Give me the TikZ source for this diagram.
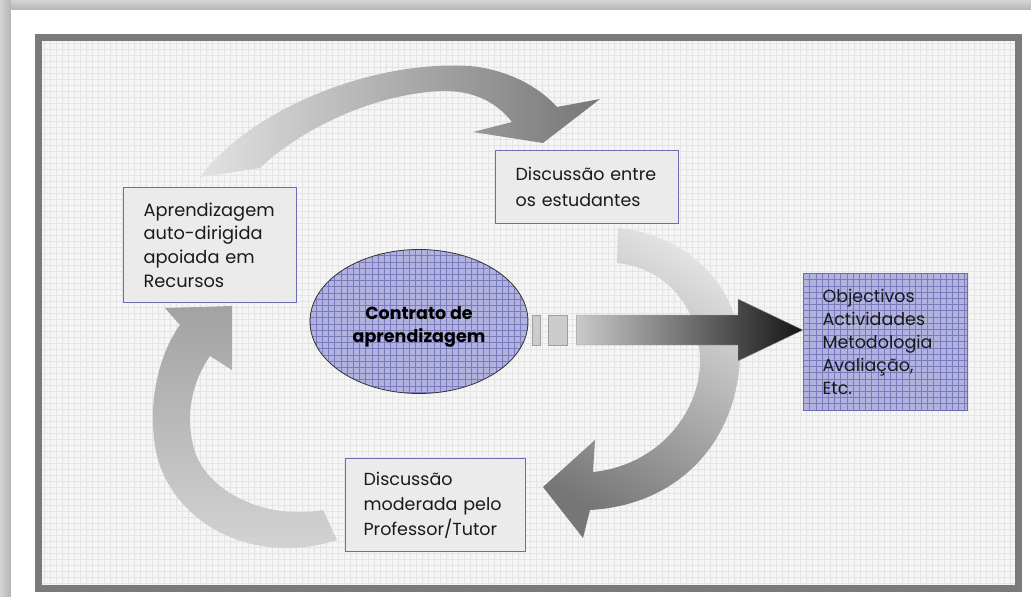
\documentclass[tikz,border=0pt]{standalone}
\usepackage{fontspec}
\setmainfont{Poppins}
\usetikzlibrary{shapes.geometric,calc}

\definecolor{framegray}{HTML}{7A7A7A}
\definecolor{patbase}{HTML}{F5F5F5}
\definecolor{patline}{HTML}{E4E4E4}
\definecolor{boxline}{HTML}{6C6CB0}
\definecolor{boxfill}{HTML}{EBEBEB}
\definecolor{lav}{HTML}{B2B2DE}
\definecolor{lavline}{HTML}{7A7ABE}
\definecolor{inktext}{HTML}{1A1A1A}
\definecolor{arlight}{HTML}{E2E2E2}
\definecolor{armid}{HTML}{D0D0D0}
\definecolor{ardark}{HTML}{767676}
\definecolor{headgray}{HTML}{A2A2A2}
\definecolor{tailgray}{HTML}{D6D6D6}
\definecolor{shadowin}{HTML}{B4B4B4}
\definecolor{shadowout}{HTML}{D4D4D4}

\tikzset{
  gridfill/.style={fill=lav, path picture={
    \foreach \k in {0,...,40}{
      \draw[lavline, line width=0.7pt]
        ([xshift=\k*6.2pt]path picture bounding box.north west) --
        ([xshift=\k*6.2pt]path picture bounding box.south west);
      \draw[lavline, line width=0.7pt]
        ([yshift=-\k*6.2pt]path picture bounding box.north west) --
        ([yshift=-\k*6.2pt]path picture bounding box.north east);
    }}},
  textbox/.style={draw=boxline, line width=1.2pt, fill=boxfill,
    anchor=north west, align=left, text=inktext, inner ysep=0pt},
  cyclearrow/.style={draw=none},
  dashsq/.style={fill=gray!40, draw=gray!75, line width=0.6pt},
}

\begin{document}
\begin{tikzpicture}[x=1pt,y=-1pt]
\useasboundingbox (0,0) rectangle (1031,597);

% page card with its soft shadow
\fill[white] (0,0) rectangle (1031,597);
\shade[top color=shadowout, bottom color=shadowin] (0,0) rectangle (1031,10);
\shade[left color=shadowout, right color=shadowin] (0,0) rectangle (11,597);
\fill[white] (11,10) rectangle (1031,597);

% patterned panel
\fill[patbase] (42,41) rectangle (1015,585);
\foreach \x in {44,50,...,1014}
  \draw[patline, line width=1pt] (\x,41) -- (\x,585);
\foreach \y in {43,49,...,584}
  \draw[patline, line width=1pt] (42,\y) -- (1015,\y);
\draw[framegray, line width=7pt] (38.5,37.5) rectangle (1018.5,588.5);

% cycle of curved block arrows
\shade[cyclearrow, left color=arlight, right color=ardark]
  (200,177) .. controls (250,110) and (370,60) .. (470,66)
  .. controls (510,70) and (540,88) .. (557,107)
  -- (600,99) -- (543,143) -- (473,132) -- (512,122)
  .. controls (495,100) and (470,90) .. (440,91)
  .. controls (370,95) and (300,130) .. (260,168) -- cycle;

\shade[cyclearrow, top color=arlight, middle color=armid, bottom color=ardark, shading angle=-30]
  (618,228) .. controls (690,235) and (742,290) .. (740,355)
  .. controls (738,440) and (680,505) .. (590,510)
  -- (583,538) -- (543,487) -- (595,440) -- (593,472)
  .. controls (660,465) and (702,410) .. (700,357)
  .. controls (698,305) and (665,268) .. (617,263) -- cycle;

\shade[cyclearrow, top color=headgray, middle color=tailgray, bottom color=tailgray]
  (337,540) .. controls (260,565) and (180,530) .. (158,460)
  .. controls (145,410) and (158,355) .. (180,325)
  -- (165,308) -- (232,306) -- (232,370) -- (210,356)
  .. controls (190,385) and (185,420) .. (195,452)
  .. controls (210,495) and (270,520) .. (323,510) -- cycle;

% the three stages
\node[textbox, inner xsep=20pt, text width=133pt, minimum height=115pt,
      font=\fontsize{17.8}{23.7}\selectfont] (auto) at (123,187)
  {Aprendizagem\\auto-dirigida\\apoiada em\\Recursos};
\node[textbox, inner xsep=20pt, text width=143pt, minimum height=73pt,
      font=\fontsize{17.5}{26}\selectfont] (estud) at (495,150)
  {Discussão entre\\os estudantes};
\node[textbox, inner xsep=18pt, text width=144pt, minimum height=93pt,
      font=\fontsize{17.5}{25}\selectfont] (tutor) at (345,458)
  {Discussão\\moderada pelo\\Professor/Tutor};

% learning contract and its contents
\node[ellipse, gridfill, draw=black!80, line width=0.8pt, inner sep=0pt,
      minimum width=218pt, minimum height=144pt] (contrato) at (419,321.5) {};
\node[align=center, text=black, inner sep=0pt,
      font=\bfseries\fontsize{17.5}{23}\selectfont] (contratotxt) at (419,327)
  {Contrato de\\aprendizagem};
\node[gridfill, draw=boxline, line width=1pt, anchor=north west,
      minimum height=137pt, text width=126pt, inner xsep=19pt, inner ysep=0pt,
      align=left, text=inktext, font=\fontsize{17.5}{23}\selectfont] (obj) at (803,273)
  {Objectivos\\Actividades\\Metodologia\\Avaliação,\\Etc.};

% straight block arrow from the contract to its contents
\coordinate (dashstart) at ($(contrato.east)+(4,8.5)$);
\coordinate (tip) at (obj.west |- dashstart);
\draw[dashsq] ($(dashstart)+(0,-15)$) rectangle ++(8,30);
\draw[dashsq] ($(dashstart)+(16,-15)$) rectangle ++(19,30);
\shade[left color=gray!42, right color=black!92, draw=gray!70, line width=0.4pt]
  ($(dashstart)+(44,-15)$) -- ($(tip)+(-65,-15)$) -- ($(tip)+(-65,-31)$)
  -- (tip) -- ($(tip)+(-65,31)$) -- ($(tip)+(-65,15)$)
  -- ($(dashstart)+(44,15)$) -- cycle;
\end{tikzpicture}
\end{document}
